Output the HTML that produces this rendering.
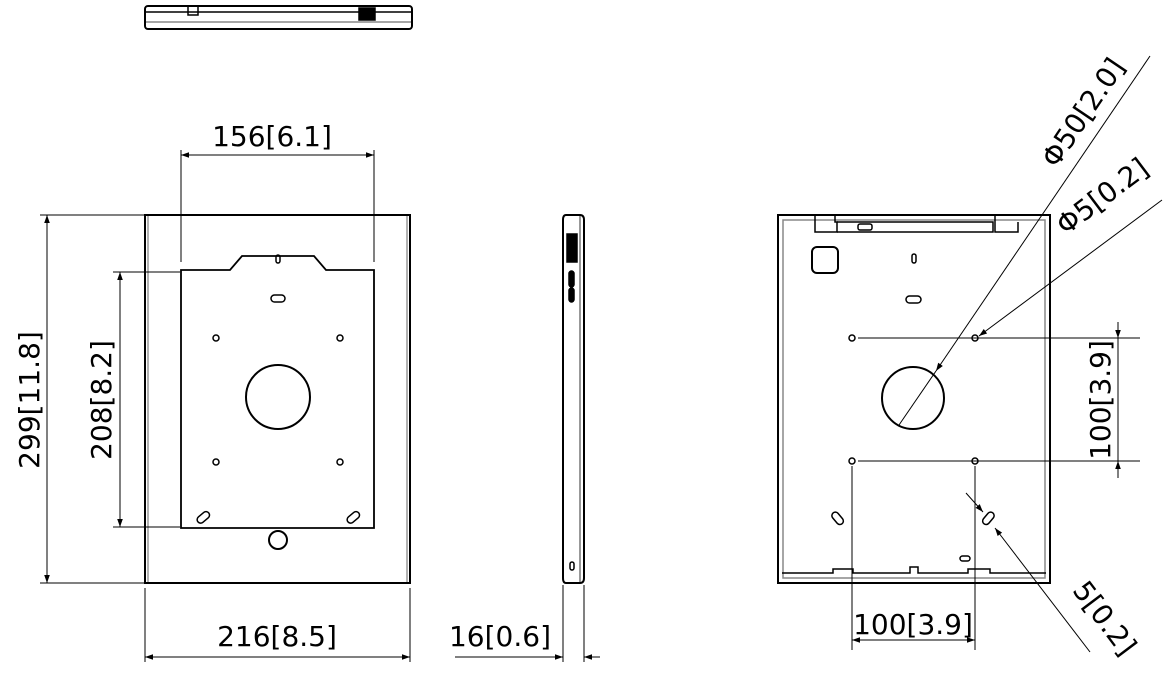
<!DOCTYPE html>
<html><head><style>body{margin:0;background:#fff}svg{display:block}text{font-family:"DejaVu Sans","Liberation Sans",sans-serif;font-size:28px;fill:#000}</style></head>
<body>
<svg width="1168" height="680" viewBox="0 0 1168 680" xmlns="http://www.w3.org/2000/svg">
<defs>
<marker id="a" viewBox="0 0 10 10" refX="10" refY="5" markerWidth="10" markerHeight="8" orient="auto-start-reverse" markerUnits="userSpaceOnUse"><path d="M0,1.5L10,5L0,8.5z" fill="#000"/></marker>
</defs>
<g fill="none" stroke="#000" stroke-width="1.5">
<rect x="145" y="6" width="267" height="23" rx="3" stroke-width="2"/>
<line x1="146" y1="12" x2="411" y2="12"/><line x1="146" y1="22" x2="411" y2="22" stroke="#888"/>
<rect x="188" y="6" width="10" height="9"/><rect x="359" y="8" width="16" height="12" fill="#000"/>
<rect x="145" y="215" width="265" height="368" stroke-width="2"/>
<line x1="148" y1="216" x2="148" y2="582" stroke="#999"/><line x1="407" y1="216" x2="407" y2="582" stroke="#999"/>
<path d="M181,528V270H230L242,256H314L326,270H374V528Z" stroke-width="1.8"/>
<circle cx="278" cy="397" r="32" stroke-width="2"/>
<circle cx="216" cy="338" r="3"/><circle cx="340" cy="338" r="3"/><circle cx="216" cy="462" r="3"/><circle cx="340" cy="462" r="3"/>
<rect x="271" y="295" width="14" height="7" rx="3.5"/><rect x="276" y="255" width="4" height="8" rx="2"/>
<rect x="196" y="514" width="14" height="7" rx="3.5" transform="rotate(-40 203 517)"/>
<rect x="346" y="514" width="14" height="7" rx="3.5" transform="rotate(-40 353 517)"/>
<circle cx="278" cy="540" r="9" stroke-width="2"/>
<line x1="181" y1="150" x2="181" y2="262" stroke-width="1"/><line x1="374" y1="150" x2="374" y2="262" stroke-width="1"/>
<line x1="181" y1="155" x2="374" y2="155" stroke-width="1" marker-start="url(#a)" marker-end="url(#a)"/>
<line x1="113" y1="272" x2="180" y2="272" stroke-width="1"/><line x1="113" y1="527" x2="180" y2="527" stroke-width="1"/>
<line x1="120" y1="272" x2="120" y2="527" stroke-width="1" marker-start="url(#a)" marker-end="url(#a)"/>
<line x1="40" y1="215" x2="145" y2="215" stroke-width="1"/><line x1="40" y1="583" x2="145" y2="583" stroke-width="1"/>
<line x1="47" y1="215" x2="47" y2="583" stroke-width="1" marker-start="url(#a)" marker-end="url(#a)"/>
<line x1="145" y1="588" x2="145" y2="662" stroke-width="1"/><line x1="410" y1="588" x2="410" y2="662" stroke-width="1"/>
<line x1="145" y1="657" x2="410" y2="657" stroke-width="1" marker-start="url(#a)" marker-end="url(#a)"/>
<path d="M566,215H580Q584,215 584,220V578Q584,583 580,583H566Q563,583 563,578V220Q563,215 566,215Z" stroke-width="2"/>
<line x1="580" y1="216" x2="580" y2="582" stroke="#777"/>
<rect x="567" y="234" width="10" height="28" fill="#000"/>
<rect x="569" y="271" width="5" height="16" rx="2.5" fill="#000"/><rect x="569" y="288" width="5" height="14" rx="2.5" fill="#000"/>
<rect x="570" y="562" width="4" height="8" rx="2" stroke-width="1.5"/>
<line x1="563" y1="585" x2="563" y2="662" stroke-width="1"/><line x1="584" y1="585" x2="584" y2="662" stroke-width="1"/>
<line x1="455" y1="657" x2="563" y2="657" stroke-width="1" marker-end="url(#a)"/>
<line x1="600" y1="657" x2="584" y2="657" stroke-width="1" marker-end="url(#a)"/>
<rect x="778" y="215" width="272" height="368" stroke-width="2"/>
<rect x="783" y="220" width="262" height="358" stroke="#888"/>
<path d="M815,216V232H837V222H835V216M995,216V232H1018V222" />
<path d="M837,222H993V232H837"/>
<rect x="858" y="224" width="14" height="6" rx="2"/>
<rect x="812" y="247" width="26" height="26" rx="5" stroke-width="2"/>
<rect x="912" y="254" width="4" height="9" rx="2"/><rect x="906" y="296" width="15" height="7" rx="3.5"/>
<circle cx="852" cy="338" r="3"/><circle cx="975" cy="338" r="3"/><circle cx="852" cy="461" r="3"/><circle cx="975" cy="461" r="3"/>
<circle cx="913" cy="398" r="31" stroke-width="2"/>
<rect x="831" y="515" width="14" height="7" rx="3.5" transform="rotate(50 838 518)"/>
<rect x="981" y="515" width="14" height="7" rx="3.5" transform="rotate(-50 988 518)"/>
<rect x="960" y="556" width="10" height="5" rx="2.5"/>
<path d="M782,573H833V569H853V573H910V567H918V573H968V569H990V573H1046"/>
<line x1="858" y1="338" x2="1140" y2="338" stroke-width="1"/><line x1="858" y1="461" x2="1140" y2="461" stroke-width="1"/>
<line x1="1118" y1="322" x2="1118" y2="338" stroke-width="1" marker-end="url(#a)"/>
<line x1="1118" y1="478" x2="1118" y2="461" stroke-width="1" marker-end="url(#a)"/>
<line x1="1118" y1="338" x2="1118" y2="461" stroke-width="1"/>
<line x1="852" y1="466" x2="852" y2="650" stroke-width="1"/><line x1="975" y1="466" x2="975" y2="650" stroke-width="1"/>
<line x1="852" y1="640" x2="975" y2="640" stroke-width="1" marker-start="url(#a)" marker-end="url(#a)"/>
<line x1="1150" y1="56" x2="936" y2="371" stroke-width="1" marker-end="url(#a)"/>
<line x1="936" y1="371" x2="899" y2="425" stroke-width="1"/>
<line x1="1162" y1="200" x2="979" y2="336" stroke-width="1" marker-end="url(#a)"/>
<line x1="966" y1="493" x2="983" y2="512" stroke-width="1" marker-end="url(#a)"/>
<line x1="1090" y1="652" x2="995" y2="528" stroke-width="1" marker-end="url(#a)"/>
</g>
<text x="272" y="146" text-anchor="middle">156[6.1]</text>
<text transform="translate(111 400) rotate(-90)" text-anchor="middle">208[8.2]</text>
<text transform="translate(39 400) rotate(-90)" text-anchor="middle">299[11.8]</text>
<text x="277" y="646" text-anchor="middle">216[8.5]</text>
<text x="500" y="646" text-anchor="middle">16[0.6]</text>
<text x="913" y="634" text-anchor="middle">100[3.9]</text>
<text transform="translate(1110 400) rotate(-90)" text-anchor="middle">100[3.9]</text>
<text transform="translate(1091 118) rotate(-56)" text-anchor="middle">Φ50[2.0]</text>
<text transform="translate(1108 204) rotate(-37)" text-anchor="middle">Φ5[0.2]</text>
<text transform="translate(1097 624) rotate(53)" text-anchor="middle">5[0.2]</text>
</svg>
</body></html>
